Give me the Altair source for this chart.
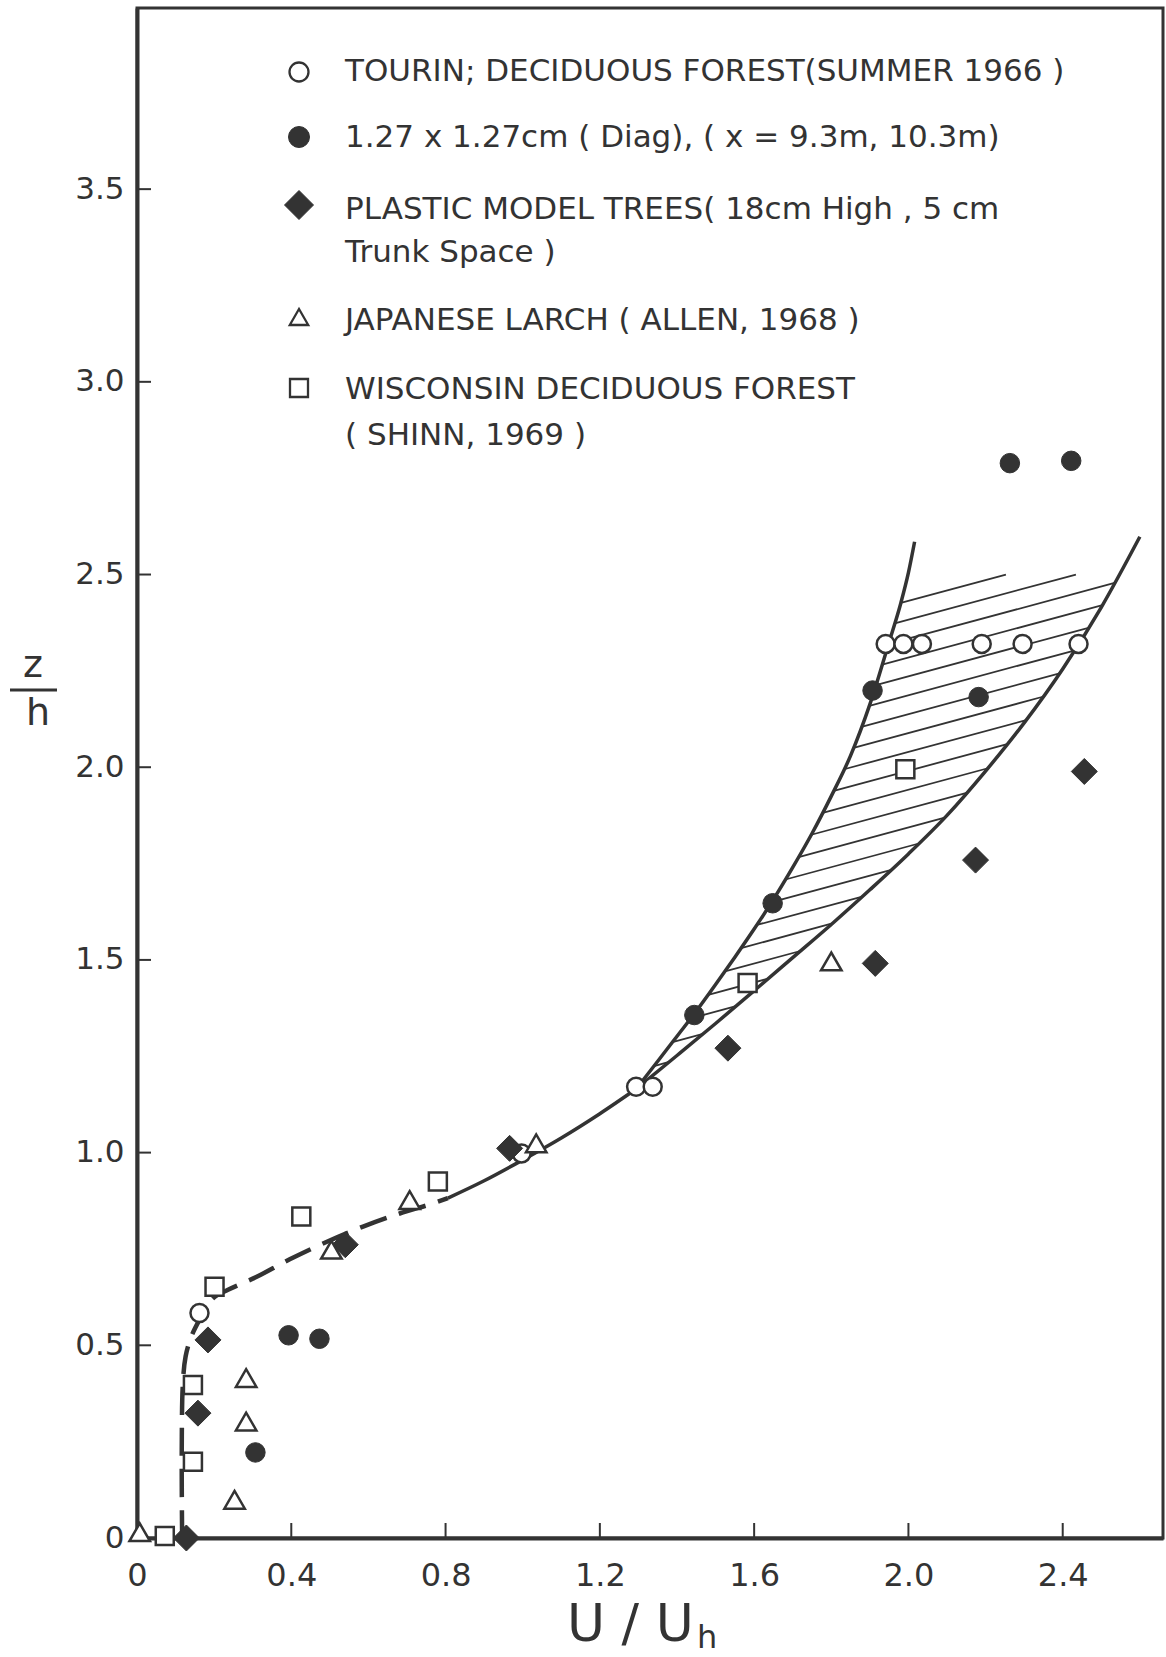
import altair as alt
import pandas as pd
import numpy as np

FONT = "DejaVu Sans"
INK = "#333333"

# ---------------- data ----------------
# Tourin; deciduous forest (open circles)
tourin_x = [0.162, 0.997, 1.294, 1.337, 1.941, 1.987, 2.035, 2.190, 2.296, 2.441]
tourin_y = [0.584, 0.998, 1.171, 1.171, 2.320, 2.320, 2.320, 2.320, 2.320, 2.320]

# 1.27 x 1.27 cm (filled circles)
diag_x = [0.307, 0.393, 0.473, 1.445, 1.648, 1.907, 2.182, 2.263, 2.422]
diag_y = [0.222, 0.526, 0.517, 1.357, 1.647, 2.199, 2.182, 2.789, 2.795]

# Plastic model trees (filled diamonds)
plastic_x = [0.128, 0.158, 0.184, 0.540, 0.966, 1.532, 1.914, 2.174, 2.456]
plastic_y = [0.000, 0.324, 0.514, 0.761, 1.011, 1.271, 1.491, 1.759, 1.989]

# Japanese larch (open triangles)
larch_x = [0.007, 0.253, 0.283, 0.283, 0.504, 0.707, 1.035, 1.800]
larch_y = [0.015, 0.099, 0.302, 0.415, 0.748, 0.877, 1.024, 1.496]

# Wisconsin deciduous forest (open squares)
wisc_x = [0.072, 0.145, 0.145, 0.201, 0.426, 0.780, 1.583, 1.992]
wisc_y = [0.005, 0.198, 0.397, 0.652, 0.834, 0.925, 1.440, 1.995]

# dashed lower part of the profile
dash_x = [0.117, 0.116, 0.119, 0.126, 0.141, 0.162, 0.197, 0.236, 0.309, 0.396, 0.491, 0.586, 0.681, 0.767, 0.806]
dash_y = [0.000, 0.229, 0.402, 0.471, 0.523, 0.566, 0.622, 0.644, 0.677, 0.723, 0.768, 0.808, 0.842, 0.868, 0.882]

# solid main part
main_x = [0.806, 0.900, 1.000, 1.100, 1.200, 1.294]
main_y = [0.882, 0.927, 0.981, 1.038, 1.101, 1.165]

# upper (left) branch of the envelope
left_x = [1.294, 1.350, 1.400, 1.450, 1.500, 1.550, 1.600, 1.650, 1.700, 1.750, 1.800, 1.850, 1.900, 1.950, 1.980, 2.000, 2.016]
left_y = [1.165, 1.237, 1.302, 1.367, 1.436, 1.507, 1.580, 1.657, 1.740, 1.828, 1.925, 2.030, 2.163, 2.325, 2.425, 2.505, 2.585]

# lower (right) branch of the envelope
right_x = [1.294, 1.400, 1.500, 1.600, 1.700, 1.800, 1.900, 2.000, 2.100, 2.200, 2.300, 2.400, 2.500, 2.600]
right_y = [1.165, 1.252, 1.335, 1.420, 1.506, 1.592, 1.682, 1.775, 1.875, 1.990, 2.115, 2.255, 2.415, 2.598]

x_ticks = [0, 0.4, 0.8, 1.2, 1.6, 2.0, 2.4]
y_ticks = [0, 0.5, 1.0, 1.5, 2.0, 2.5, 3.0, 3.5]

legend_lines = [
    "TOURIN; DECIDUOUS FOREST(SUMMER 1966 )",
    "1.27 x 1.27cm ( Diag), ( x = 9.3m, 10.3m)",
    "PLASTIC MODEL TREES( 18cm High , 5 cm",
    "Trunk Space )",
    "JAPANESE LARCH ( ALLEN, 1968 )",
    "WISCONSIN DECIDUOUS FOREST",
    "( SHINN, 1969 )",
]

# ---------------- layout ----------------
W, H = 1026, 1530
XMAX, YMAX = 2.66, 3.97

xs = alt.Scale(domain=[0, XMAX], nice=False, zero=False)
ys = alt.Scale(domain=[0, YMAX], nice=False, zero=False)

lab = "datum.value == 0 ? '0' : format(datum.value, '.1f')"
xaxis = alt.Axis(values=x_ticks, labelExpr=lab, ticks=False, grid=False,
                 domainWidth=4, domainColor=INK, labelFont=FONT, labelFontSize=32,
                 labelColor=INK, labelPadding=22, labelFlush=False, labelOverlap=False,
                 title=None)
yaxis = alt.Axis(values=y_ticks, labelExpr=lab, ticks=False, grid=False,
                 domainWidth=4, domainColor=INK, labelFont=FONT, labelFontSize=31,
                 labelColor=INK, labelPadding=13, labelFlush=False, labelOverlap=False,
                 title=None)

X = lambda f: alt.X(f, type="quantitative", scale=xs, axis=xaxis)
Y = lambda f: alt.Y(f, type="quantitative", scale=ys, axis=yaxis)

one = pd.DataFrame({"a": [0]})

# ---------------- hatching between the two branches ----------------
S, D, YTOP = 0.27, 0.049, 2.5
LX, LY = np.array(left_x), np.array(left_y)
RX, RY = np.array(right_x), np.array(right_y)


def cross(XA, YA, c):
    yy = np.linspace(YA[0], YA[-1], 4000)
    xx = np.interp(yy, YA, XA)
    f = yy - c - S * xx
    idx = np.where(np.diff(np.sign(f)) != 0)[0]
    if len(idx) == 0:
        return None
    i = idx[0]
    t = f[i] / (f[i] - f[i + 1])
    return xx[i] + t * (xx[i + 1] - xx[i]), yy[i] + t * (yy[i + 1] - yy[i])


c0 = 2.479 - S * np.interp(2.479, LY, LX)
hatch = []
for k in range(60):
    c = c0 - k * D
    L = cross(LX, LY, c)
    R = cross(RX, RY, c)
    if L is None or R is None:
        continue
    if R[1] > YTOP:
        R = ((YTOP - c) / S, YTOP)
    if L[1] >= YTOP or R[0] - L[0] < 0.015:
        continue
    hatch.append({"x1": L[0], "y1": L[1], "x2": R[0], "y2": R[1]})
hatch_df = pd.DataFrame(hatch)

layers = []

# manual inward ticks
layers.append(alt.Chart(pd.DataFrame({"v": y_ticks[1:]})).mark_rule(color=INK, strokeWidth=2).encode(
    y=Y("v"), x=alt.value(0), x2=alt.value(14)))
layers.append(alt.Chart(pd.DataFrame({"v": x_ticks[1:]})).mark_rule(color=INK, strokeWidth=2).encode(
    x=X("v"), y=alt.value(H), y2=alt.value(H - 15)))

# hatching
layers.append(alt.Chart(hatch_df).mark_rule(color=INK, strokeWidth=1.8).encode(
    x=X("x1"), y=Y("y1"), x2="x2:Q", y2="y2:Q"))

# curves
layers.append(alt.Chart(pd.DataFrame({"x": dash_x, "y": dash_y})).mark_line(
    color=INK, strokeWidth=4.5, strokeDash=[28, 13], interpolate="catmull-rom").encode(
    x=X("x"), y=Y("y"), order=alt.Order("y:Q")))
for cx, cy in [(main_x, main_y), (left_x, left_y), (right_x, right_y)]:
    layers.append(alt.Chart(pd.DataFrame({"x": cx, "y": cy})).mark_line(
        color=INK, strokeWidth=3.5, interpolate="monotone").encode(x=X("x"), y=Y("y")))


def pts(xv, yv, shape, filled, size):
    df = pd.DataFrame({"x": xv, "y": yv})
    return alt.Chart(df).mark_point(
        shape=shape, filled=True, fill=INK if filled else "white", stroke=INK,
        strokeWidth=1 if filled else 2.5, size=size, opacity=1).encode(x=X("x"), y=Y("y"))


layers += [
    pts(tourin_x, tourin_y, "circle", False, 324),
    pts(diag_x, diag_y, "circle", True, 380),
    pts(plastic_x, plastic_y, "diamond", True, 676),
    pts(larch_x, larch_y, "triangle-up", False, 420),
    pts(wisc_x, wisc_y, "square", False, 324),
]

# ---------------- legend (inside the plot, top) ----------------
def lmark(shape, filled, size, px, py):
    return alt.Chart(one).mark_point(
        shape=shape, filled=True, fill=INK if filled else "white", stroke=INK,
        strokeWidth=1 if filled else 2.3, size=size, opacity=1).encode(
        x=alt.value(px), y=alt.value(py))


def ltext(txt, px, py, fs=31, align="left", baseline="middle"):
    return alt.Chart(one).mark_text(
        text=txt, align=align, baseline=baseline, font=FONT, fontSize=fs, color=INK).encode(
        x=alt.value(px), y=alt.value(py))


MX, TX = 162, 208
layers += [
    lmark("circle", False, 361, MX, 64),
    lmark("circle", True, 441, MX, 129),
    lmark("diamond", True, 841, MX, 197),
    lmark("triangle-up", False, 340, MX, 309),
    lmark("square", False, 324, MX, 380),
    ltext(legend_lines[0], TX, 64),
    ltext(legend_lines[1], TX, 130),
    ltext(legend_lines[2], TX, 202),
    ltext(legend_lines[3], TX, 245),
    ltext(legend_lines[4], TX, 313),
    ltext(legend_lines[5], TX, 382),
    ltext(legend_lines[6], TX, 428),
]

# ---------------- axis titles ----------------
layers += [
    ltext("z", -104, 658, fs=38, align="center"),
    alt.Chart(one).mark_rule(color=INK, strokeWidth=3).encode(
        x=alt.value(-127), x2=alt.value(-80), y=alt.value(682)),
    ltext("h", -99, 706, fs=38, align="center"),
    ltext("U / U", 430, H + 103, fs=52, baseline="alphabetic"),
    ltext("h", 560, H + 110, fs=32, baseline="alphabetic"),
]

chart = alt.layer(*layers).properties(
    width=W, height=H,
    autosize=alt.AutoSizeParams(type="none"),
    padding={"left": 137, "top": 8, "right": 3, "bottom": 119},
    background="white",
).configure_view(stroke=INK, strokeWidth=3)

chart.save("out.html", embed_options={"renderer": "svg", "actions": False})
